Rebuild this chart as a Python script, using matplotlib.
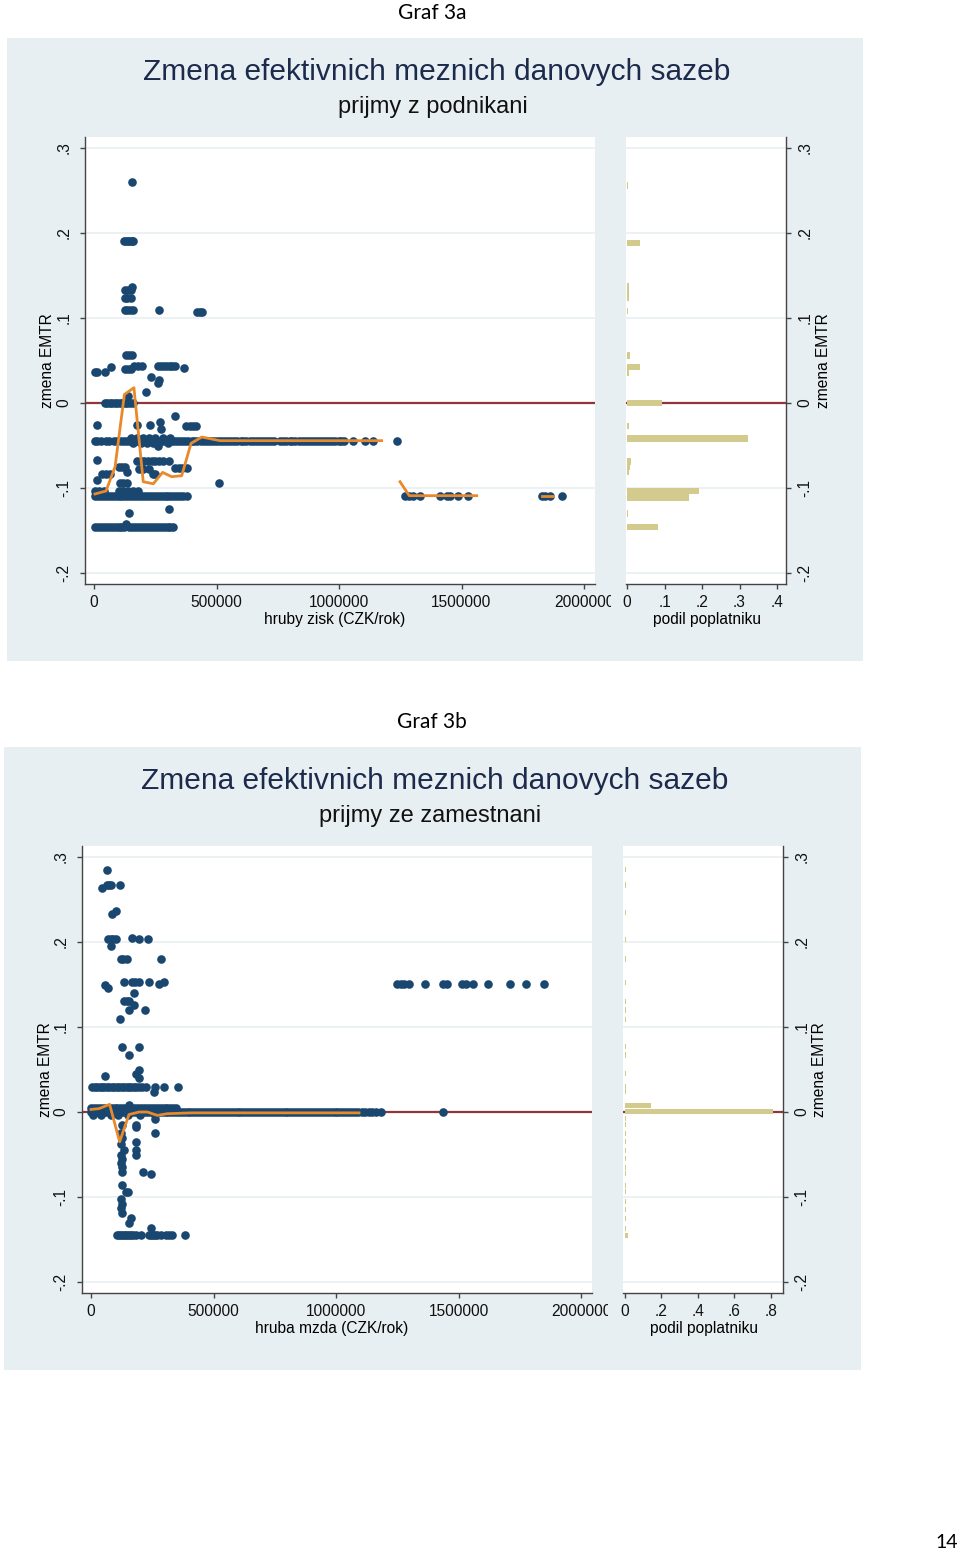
import matplotlib
matplotlib.use("Agg")
import matplotlib.pyplot as plt
from matplotlib.patches import Rectangle
from matplotlib.transforms import Bbox

plt.rcParams['font.family'] = ['Liberation Sans', 'DejaVu Sans']

W, H = 960, 1554

NAVY = '#1a476f'
ORANGE = '#e8892b'
CRANBERRY = '#90353b'
KHAKI = '#d3ca8e'
BG = '#e8eff2'
GRID = '#eaf1f3'
AXIS = '#444444'

# ---------------- Graf 3a : prijmy z podnikani ----------------
# scatter points, grouped by level of "zmena EMTR"
A_Y = [0.26, 0.190, 0.137, 0.133, 0.124, 0.109, 0.107, 0.0565, 0.042, 0.037,
       0.040, 0.043, 0.041, 0.031, 0.027, 0.024, 0.013, 0.0, 0.008,
       -0.015, -0.022, -0.026, -0.030, -0.027, -0.041, -0.0443, -0.047, -0.05,
       -0.067, -0.068, -0.078, -0.084, -0.075, -0.081, -0.076, -0.091, -0.094,
       -0.103, -0.109, -0.129, -0.125, -0.142, -0.146]
A_X = [
    [154000],
    [122000, 130000, 138000, 146000, 155000, 160000],
    [157000],
    [125000, 140000, 152000],
    [125000, 135000, 150000],
    [125000, 135000, 145000, 158000, 265000],
    [420000, 432000, 440000],
    [132000, 142000, 155000],
    [68000],
    [6000, 14000, 45000],
    [128000, 140000, 150000],
    [165000, 180000, 195000, 260000, 272000, 285000, 298000, 310000, 320000, 330000],
    [369000],
    [231000],
    [265000],
    [263000],
    [211000],
    [45000, 55000, 65000, 75000, 85000, 95000, 105000, 115000, 125000, 135000, 145000, 158000],
    [140000],
    [331000],
    [269000],
    [14000, 176000, 229000],
    [273000],
    [375000, 390000, 405000, 416000],
    [150000, 175000, 200000, 225000, 250000, 280000, 310000],
    [4000, 12000, 30000, 48000, 62000, 80000, 95000, 110000, 122000, 135000,
     148000, 160000, 172000, 185000, 198000, 210000, 222000, 235000, 248000, 260000,
     272000, 285000, 298000, 310000, 322000, 335000, 348000, 360000, 372000, 385000,
     398000, 410000, 422000, 435000, 448000, 460000, 472000, 485000, 498000, 510000,
     522000, 535000, 548000, 560000, 572000, 585000, 598000, 610000, 622000, 635000,
     648000, 660000, 672000, 685000, 698000, 710000, 722000, 735000, 759000, 772000,
     785000, 798000, 810000, 822000, 835000, 848000, 860000, 872000, 885000, 898000,
     910000, 922000, 935000, 948000, 960000, 972000, 985000, 998000, 1010000, 1022000,
     1057000, 1106000, 1139000, 1236000],
    [160000, 190000, 215000, 240000, 300000],
    [260000],
    [11000],
    [176000, 190000, 205000, 220000, 235000, 250000, 265000, 280000, 305000],
    [185000, 200000, 225000],
    [31000, 48000, 65000, 241000, 250000],
    [102000, 115000, 127000],
    [135000],
    [331000, 345000, 360000, 380000],
    [14000],
    [106000, 120000, 135000, 510000],
    [4000, 20000, 40000, 100000, 120000, 140000, 160000, 180000],
    [4000, 15000, 27000, 40000, 52000, 64000, 76000, 88000, 100000, 112000,
     124000, 136000, 148000, 160000, 172000, 184000, 196000, 208000, 220000, 232000,
     244000, 256000, 268000, 280000, 292000, 304000, 316000, 328000, 340000, 352000,
     364000, 378000,
     1270000, 1285000, 1300000, 1331000, 1412000, 1440000, 1453000, 1487000, 1528000,
     1827000, 1840000, 1861000, 1909000],
    [144000],
    [306000],
    [130000],
    [4000, 15000, 27000, 40000, 52000, 64000, 76000, 88000, 100000, 112000, 124000,
     144000, 156000, 168000, 180000, 192000, 204000, 216000, 228000, 240000, 252000,
     264000, 276000, 288000, 300000, 312000, 322000],
]
# smoothed mean (orange line), three pieces
A_LINE = [
    ([4000, 49000, 86000, 124000, 163000, 201000, 242000, 280000, 317000, 358000,
      396000, 440000, 514000, 1174000],
     [-0.107, -0.1035, -0.075, 0.010, 0.018, -0.0926, -0.095, -0.0816, -0.0867,
      -0.0855, -0.0475, -0.040, -0.0443, -0.0443]),
    ([1249000, 1287000, 1562000], [-0.0926, -0.109, -0.109]),
    ([1827000, 1872000], [-0.109, -0.109]),
]
# histogram: share of taxpayers per EMTR bin
A_HIST_Y = [0.256, 0.188, 0.137, 0.131, 0.124, 0.108, 0.056, 0.042, 0.035, 0.0,
            -0.027, -0.0416, -0.069, -0.075, -0.081, -0.1035, -0.111, -0.13, -0.1455]
A_HIST_W = [0.003, 0.035, 0.005, 0.006, 0.004, 0.003, 0.009, 0.035, 0.006, 0.0925,
            0.006, 0.323, 0.011, 0.009, 0.006, 0.192, 0.164, 0.002, 0.082]

# ---------------- Graf 3b : prijmy ze zamestnani ----------------
B_Y = [0.285, 0.264, 0.267, 0.233, 0.236, 0.203, 0.205, 0.195, 0.180, 0.149, 0.146,
       0.153, 0.150, 0.140, 0.130, 0.126, 0.12, 0.109, 0.077, 0.067, 0.076,
       0.049, 0.045, 0.040, 0.042, 0.030, 0.024, 0.008, 0.005, 0.0, -0.003,
       -0.015, -0.018, -0.008, -0.025, -0.030, -0.038, -0.045, -0.050, -0.055,
       -0.060, -0.065, -0.070, -0.035, -0.073, -0.086, -0.094, -0.102, -0.108,
       -0.113, -0.119, -0.125, -0.131, -0.137, -0.145, 0.1506]
B_X = [
    [64000],
    [44000],
    [66000, 75000, 82000, 117000],
    [84000],
    [103000],
    [69000, 80000, 90000, 102000, 196000, 233000],
    [169000],
    [80000],
    [121000, 132000, 148000, 284000],
    [57000],
    [69000],
    [135000, 169000, 180000, 196000, 237000, 298000],
    [278000],
    [176000],
    [135000, 145000, 155000],
    [176000],
    [155000, 220000],
    [117000],
    [128000],
    [155000],
    [196000],
    [196000],
    [185000],
    [196000],
    [57000],
    [5000, 15000, 25000, 35000, 45000, 55000, 65000, 75000, 85000, 95000, 105000,
     115000, 125000, 135000, 145000, 155000, 165000, 175000, 185000, 196000, 210000,
     223000, 261000, 298000, 356000],
    [257000],
    [155000],
    [0, 12000, 24000, 36000, 48000, 60000, 72000, 84000, 96000, 108000, 120000,
     132000, 144000, 156000, 168000, 180000, 192000, 204000, 216000, 228000, 240000,
     252000, 264000, 276000, 288000, 300000, 312000, 324000, 336000, 346000],
    [0, 12000, 24000, 36000, 48000, 60000, 72000, 84000, 96000, 108000, 120000,
     132000, 144000, 156000, 168000, 180000, 192000, 204000, 216000, 228000, 240000,
     252000, 264000, 276000, 288000, 300000, 312000, 324000, 336000, 346000,
     358000, 370000, 382000, 394000, 406000, 418000, 430000, 442000, 454000, 466000,
     478000, 490000, 502000, 514000, 526000, 538000, 550000, 562000, 574000, 586000,
     598000, 610000, 622000, 634000, 646000, 658000, 670000, 682000, 694000, 706000,
     718000, 730000, 742000, 754000, 766000, 778000, 790000, 802000, 814000, 826000,
     838000, 850000, 862000, 874000, 886000, 898000, 910000, 922000, 934000, 946000,
     958000, 970000, 982000, 994000, 1006000, 1018000, 1030000, 1042000, 1054000,
     1066000, 1078000, 1090000, 1106000, 1120000, 1134000, 1148000, 1165000, 1182000,
     1438000],
    [10000, 40000, 80000, 110000, 150000, 200000, 260000],
    [128000, 185000],
    [185000],
    [261000],
    [121000, 261000],
    [128000],
    [121000],
    [135000, 185000],
    [121000, 182000],
    [128000],
    [121000],
    [128000],
    [128000, 212000],
    [185000],
    [244000],
    [128000],
    [142000, 152000],
    [121000],
    [128000],
    [121000],
    [125000],
    [162000],
    [155000],
    [244000],
    [107000, 115000, 122000, 130000, 138000, 146000, 154000, 162000, 172000, 182000,
     203000, 237000, 245000, 253000, 261000, 270000, 284000, 305000, 318000, 332000,
     384000],
    [1250000, 1265000, 1278000, 1298000, 1362000, 1438000, 1454000, 1516000, 1529000,
     1559000, 1622000, 1709000, 1777000, 1849000],
]
B_LINE = [
    ([0, 33000, 76000, 117000, 155000, 196000, 230000, 271000, 311000, 412000, 1094000],
     [0.003, 0.004, 0.009, -0.035, -0.003, 0.0, 0.0, -0.004, -0.002, -0.001, -0.001]),
]
B_HIST_Y = [0.285, 0.267, 0.235, 0.203, 0.180, 0.152, 0.130, 0.120, 0.109, 0.077,
            0.067, 0.045, 0.030, 0.024, 0.008, 0.001, -0.008, -0.015, -0.025, -0.035,
            -0.045, -0.055, -0.065, -0.072, -0.086, -0.094, -0.105, -0.115, -0.125,
            -0.137, -0.145]
B_HIST_W = [0.004, 0.004, 0.004, 0.004, 0.004, 0.004, 0.004, 0.004, 0.004, 0.004,
            0.004, 0.004, 0.004, 0.004, 0.142, 0.813, 0.004, 0.004, 0.004, 0.004,
            0.004, 0.004, 0.004, 0.004, 0.004, 0.004, 0.004, 0.004, 0.004,
            0.004, 0.015]

Y_TICKS = [-0.2, -0.1, 0, 0.1, 0.2, 0.3]
X_TICKS = [0, 500000, 1000000, 1500000, 2000000]


def stata_fmt(v):
    s = f"{v:g}"
    return s.replace("0.", ".")


def px_axes(fig, left, top, right, bottom):
    return fig.add_axes([left / W, 1 - bottom / H, (right - left) / W, (bottom - top) / H])


def style_axis(ax):
    ax.set_facecolor('white')
    ax.set_ylim(-0.2129, 0.3129)
    ax.set_yticks(Y_TICKS)
    ax.grid(axis='y', color=GRID, lw=1.3)
    ax.set_axisbelow(True)
    ax.axhline(0, color=CRANBERRY, lw=1.6, zorder=2)
    for s in ax.spines.values():
        s.set_color(AXIS)
        s.set_linewidth(1.0)
    ax.spines['top'].set_visible(False)
    ax.tick_params(direction='out', length=3.6, width=1, color=AXIS,
                   labelsize=11.2, labelcolor='#111111')
    ax.tick_params(axis='x', pad=4)
    ax.tick_params(axis='y', pad=6)


def draw_panel(top, bgbox, levels, xs, lines, hist_y, hist_w, hist_h,
               hist_ticks, hist_lim, graf, subtitle, xlabel):
    # grey graph region
    bl, bt, br, bb = bgbox
    fig.patches.append(Rectangle((bl / W, 1 - bb / H), (br - bl) / W, (bb - bt) / H,
                                 transform=fig.transFigure, facecolor=BG,
                                 edgecolor='none', zorder=-5))
    # scatter
    sl, sr = bl + 78, bl + 588
    st, sb = top, top + 447
    ax = px_axes(fig, sl, st, sr, sb)
    style_axis(ax)
    ax.spines['right'].set_visible(False)
    zero_px = sl + 9
    per_px = 500000 / 122.5
    ax.set_xlim((sl - zero_px) * per_px, (sr - zero_px) * per_px)
    ax.set_xticks(X_TICKS, [str(t) for t in X_TICKS])
    ax.set_yticks(Y_TICKS, [stata_fmt(t) for t in Y_TICKS], rotation=90, va='center')
    for yv, row in zip(levels, xs):
        ax.plot(row, [yv] * len(row), 'o', ms=6.2, color=NAVY, mew=0, zorder=3)
    for lx, ly in lines:
        ax.plot(lx, ly, color=ORANGE, lw=2.0, zorder=4)
    clip = Bbox([[0, 0], [sr + 16, H]])
    for lab in ax.get_xticklabels():
        lab.set_clip_on(True)
        lab.set_clip_box(clip)

    # histogram
    hl, hr = sr + 31, sr + 191
    hx = px_axes(fig, hl, st, hr, sb)
    style_axis(hx)
    hx.spines['left'].set_visible(False)
    hx.yaxis.tick_right()
    hx.tick_params(axis='y', pad=4.5)
    hx.set_yticks(Y_TICKS, [stata_fmt(t) for t in Y_TICKS], rotation=90, va='center')
    hx.barh(hist_y, hist_w, height=hist_h, left=0, color=KHAKI, zorder=3)
    hx.set_xlim(hist_lim[0], hist_lim[1])
    hx.set_xticks(hist_ticks, [stata_fmt(t) for t in hist_ticks])

    cx = (bl + br) / 2
    fig.text(432 / W, 1 - (bt - 25) / H, graf, ha='center', va='center',
             fontsize=15, family=['Lato', 'DejaVu Sans'])
    fig.text((cx + 2) / W, 1 - (bt + 34) / H, 'Zmena efektivnich meznich danovych sazeb',
             ha='center', va='center', fontsize=21.5, color='#1c2a4c')
    fig.text((cx - 2) / W, 1 - (bt + 69) / H, subtitle, ha='center', va='center',
             fontsize=17, color='#111111')
    fig.text((sl + sr - 10) / 2 / W, 1 - (sb + 35) / H, xlabel, ha='center',
             va='center', fontsize=11.2)
    fig.text((hl + hr + 2) / 2 / W, 1 - (sb + 35) / H, 'podil poplatniku', ha='center',
             va='center', fontsize=11.2)
    fig.text((sl - 37) / W, 1 - (st + sb) / 2 / H, 'zmena EMTR', rotation=90,
             ha='center', va='center', fontsize=11.2)
    fig.text((hr + 37) / W, 1 - (st + sb) / 2 / H, 'zmena EMTR', rotation=90,
             ha='center', va='center', fontsize=11.2)


fig = plt.figure(figsize=(W / 100, H / 100), dpi=100)

draw_panel(137, (7, 38, 863, 661), A_Y, A_X, A_LINE, A_HIST_Y, A_HIST_W, 0.0075,
           [0, 0.1, 0.2, 0.3, 0.4], (-0.0027, 0.424), 'Graf 3a', 'prijmy z podnikani',
           'hruby zisk (CZK/rok)')
draw_panel(846, (4, 747, 861, 1370), B_Y, B_X, B_LINE, B_HIST_Y, B_HIST_W, 0.006,
           [0, 0.2, 0.4, 0.6, 0.8], (-0.011, 0.866), 'Graf 3b', 'prijmy ze zamestnani',
           'hruba mzda (CZK/rok)')

fig.text(947 / W, 1 - 1543 / H, '14', ha='center', va='center', fontsize=14,
         family=['Lato', 'DejaVu Sans'])

fig.savefig('out.png', dpi=100)
